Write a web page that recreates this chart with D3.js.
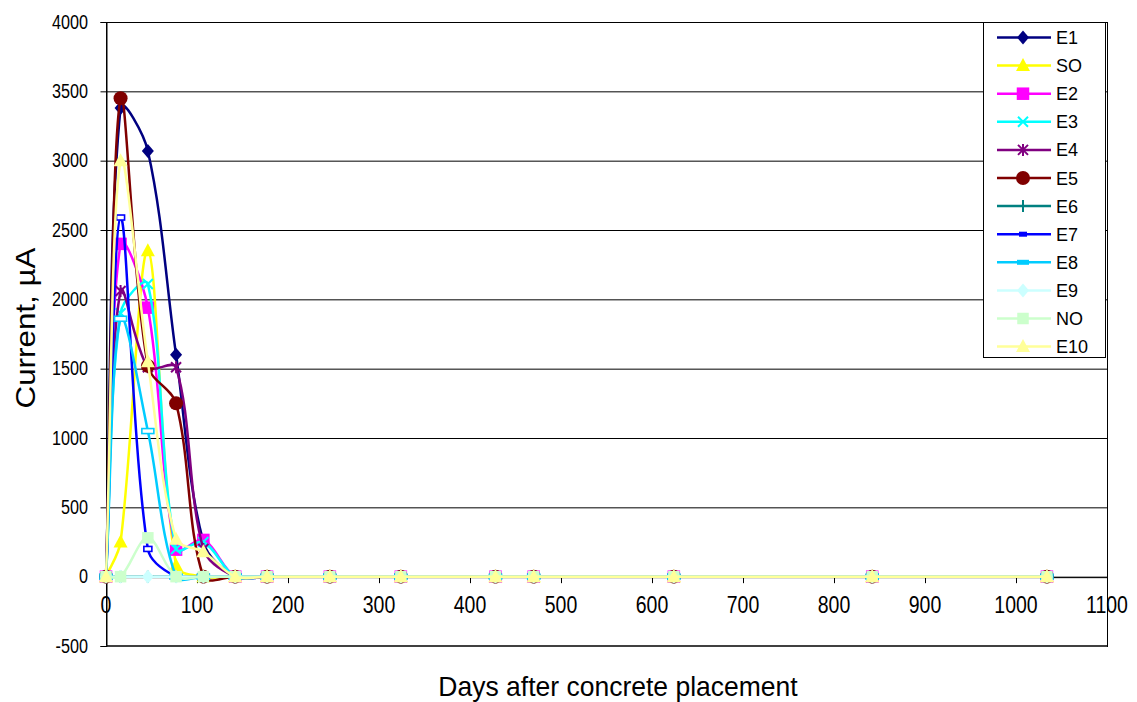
<!DOCTYPE html>
<html><head><meta charset="utf-8">
<script src="https://cdn.jsdelivr.net/npm/d3@7"></script>
<style>body{margin:0;background:#fff}text{font-family:"Liberation Sans",Arial,sans-serif}</style>
</head><body><svg id="c" width="1137" height="702"></svg>
<script>
const days = [0,16,46,77,107,142,177,246,324,428,470,624,842,1034];
const E1  = [0,3380,3070,1600,250,0,0,0,0,0,0,0,0,0];
const SO  = [0,250,2350,80,0,0,0,0,0,0,0,0,0,0];
const E2  = [0,2400,1940,195,265,0,0,0,0,0,0,0,0,0];
const E3  = [0,1900,2110,200,250,0,0,0,0,0,0,0,0,0];
const E4  = [0,2060,1510,1510,200,0,0,0,0,0,0,0,0,0];
const E5  = [0,3450,1520,1250,0,0,0,0,0,0,0,0,0,0];
const E6  = [0,0,0,0,0,0,0,0,0,0,0,0,0,0];
const E7  = [0,2590,200,0,0,0,0,0,0,0,0,0,0,0];
const E8  = [0,1860,1050,0,0,0,0,0,0,0,0,0,0,0];
const E9  = [0,0,0,0,0,0,0,0,0,0,0,0,0,0];
const NO  = [0,0,280,0,0,0,0,0,0,0,0,0,0,0];
const E10 = [0,3000,1550,270,180,0,0,0,0,0,0,0,0,0];
const seriesNames = ["E1","SO","E2","E3","E4","E5","E6","E7","E8","E9","NO","E10"];
const seriesValues = [E1,SO,E2,E3,E4,E5,E6,E7,E8,E9,NO,E10];
const colors = ["#000080","#FFFF00","#FF00FF","#00FFFF","#800080","#800000","#008080","#0000FF","#00CCFF","#CCFFFF","#CCFFCC","#FFFF99"];
const markers = ["diamond","triangle","squareL","x","star","circle","plus","dashS","dashL","diamond","square","triangle"];
const yTicks = [-500,0,500,1000,1500,2000,2500,3000,3500,4000];
const xTicks = [0,100,200,300,400,500,600,700,800,900,1000,1100];

const svg = d3.select("#c");
const L=106,R=1107,T=22,B=646;
const x = d3.scaleLinear().domain([0,1100]).range([L,R]);
const y = d3.scaleLinear().domain([-500,4000]).range([B,T]);

// gridlines
svg.append("g").selectAll("line").data(yTicks.filter(d=>d>-500)).join("line")
  .attr("x1",L).attr("x2",R).attr("y1",d=>y(d)+0.5).attr("y2",d=>y(d)+0.5)
  .attr("stroke","#000").attr("stroke-width",1);
// frame
svg.append("rect").attr("x",L+0.5).attr("y",T+0.5).attr("width",R-L).attr("height",B-T)
  .attr("fill","none").attr("stroke","#000").attr("stroke-width",1);
svg.append("line").attr("x1",L).attr("x2",R).attr("y1",B).attr("y2",B).attr("stroke","#404040").attr("stroke-width",2);

// y axis
const ya = svg.append("g").attr("transform",`translate(${L+0.5},0)`)
  .call(d3.axisLeft(y).tickValues(yTicks).tickSize(6).tickFormat(""));
ya.select(".domain").attr("stroke","#000");
svg.append("g").selectAll("text").data(yTicks).join("text")
  .attr("transform",d=>`translate(88,${y(d)+6.5}) scale(1,1.2)`)
  .attr("text-anchor","end").attr("font-size",16.2).text(d=>d);
// x axis at y=0
const xa = svg.append("g").attr("transform",`translate(0,${y(0)+0.5})`)
  .call(d3.axisBottom(x).tickValues(xTicks).tickSize(6).tickFormat(""));
xa.select(".domain").attr("stroke","#000");
svg.append("g").selectAll("text").data(xTicks).join("text")
  .attr("transform",d=>`translate(${x(d)},613) scale(1,1.27)`)
  .attr("text-anchor","middle").attr("font-size",19.5).text(d=>d);

// titles
svg.append("text").attr("transform","translate(618,696) scale(1,1.07)").attr("text-anchor","middle")
  .attr("font-size",26.5).text("Days after concrete placement");
svg.append("text").attr("transform","translate(35,328) rotate(-90) scale(1.12,1)").attr("text-anchor","middle")
  .attr("font-size",28).text("Current, µA");

function drawMarker(g, type, color, cx, cy, legend){
  if(type==="diamond"){
    g.append("path").attr("d",`M${cx},${cy-7}L${cx+6},${cy}L${cx},${cy+7}L${cx-6},${cy}Z`).attr("fill",color);
  } else if(type==="triangle"){
    g.append("path").attr("d",`M${cx},${cy-7.5}L${cx+7},${cy+5.5}L${cx-7},${cy+5.5}Z`).attr("fill",color);
  } else if(type==="square"||type==="squareL"){
    const s = type==="squareL"?12.5:11.5;
    g.append("rect").attr("x",cx-s/2).attr("y",cy-s/2).attr("width",s).attr("height",s).attr("fill",color);
  } else if(type==="circle"){
    g.append("circle").attr("cx",cx).attr("cy",cy).attr("r",7).attr("fill",color);
  } else if(type==="x"){
    g.append("path").attr("d",`M${cx-5},${cy-5}L${cx+5},${cy+5}M${cx-5},${cy+5}L${cx+5},${cy-5}`).attr("stroke",color).attr("stroke-width",2);
  } else if(type==="star"){
    g.append("path").attr("d",`M${cx-5},${cy-5}L${cx+5},${cy+5}M${cx-5},${cy+5}L${cx+5},${cy-5}M${cx},${cy-6}L${cx},${cy+6}`).attr("stroke",color).attr("stroke-width",2);
  } else if(type==="plus"){
    g.append("path").attr("d",`M${cx-6},${cy}L${cx+6},${cy}M${cx},${cy-6}L${cx},${cy+6}`).attr("stroke",color).attr("stroke-width",2);
  } else if(type==="dashS"||type==="dashL"){
    const w = type==="dashS"?8:12;
    if(legend){
      g.append("rect").attr("x",cx-w/2).attr("y",cy-2.5).attr("width",w).attr("height",5).attr("fill",color);
    } else {
      g.append("rect").attr("x",cx-w/2).attr("y",cy-2.5).attr("width",w).attr("height",5)
        .attr("fill","#fff").attr("stroke",color).attr("stroke-width",1.6);
    }
  }
}

// Excel-style smoothed line: cubic Bezier whose tangents are scaled by neighbouring segment lengths
function smoothPath(P){
  const dist=(a,b)=>Math.hypot(b[0]-a[0],b[1]-a[1]);
  const path = d3.path();
  path.moveTo(P[0][0],P[0][1]);
  for(let i=0;i<P.length-1;i++){
    const p0=P[Math.max(0,i-1)], p1=P[i], p2=P[i+1], p3=P[Math.min(P.length-1,i+2)];
    const d01=dist(p0,p1), d12=dist(p1,p2), d23=dist(p2,p3);
    const f1 = (d01+d12)>0 ? d12/(3*(d01+d12)) : 0;
    const f2 = (d12+d23)>0 ? d12/(3*(d12+d23)) : 0;
    const c1=[p1[0]+(p2[0]-p0[0])*f1, p1[1]+(p2[1]-p0[1])*f1];
    const c2=[p2[0]-(p3[0]-p1[0])*f2, p2[1]-(p3[1]-p1[1])*f2];
    path.bezierCurveTo(c1[0],c1[1],c2[0],c2[1],p2[0],p2[1]);
  }
  return path.toString();
}

const plot = svg.append("g");
seriesNames.forEach((name,i)=>{
  const pts = days.map((d,j)=>[x(d),y(seriesValues[i][j])]);
  const g = plot.append("g");
  g.append("path").attr("d",smoothPath(pts)).attr("fill","none").attr("stroke",colors[i]).attr("stroke-width",2.5);
  pts.forEach(p=>drawMarker(g,markers[i],colors[i],p[0],p[1],false));
});

// legend
const lg = svg.append("g");
lg.append("rect").attr("x",983.5).attr("y",22.5).attr("width",122).attr("height",335)
  .attr("fill","#fff").attr("stroke","#000").attr("stroke-width",1);
seriesNames.forEach((name,i)=>{
  const cy = 37.5 + i*28.1;
  const g = lg.append("g");
  g.append("line").attr("x1",997).attr("x2",1051).attr("y1",cy).attr("y2",cy).attr("stroke",colors[i]).attr("stroke-width",2.5);
  drawMarker(g,markers[i],colors[i],1023,cy,true);
  g.append("text").attr("x",1056).attr("y",cy+6.5).attr("font-size",18).text(name);
});
</script></body></html>
